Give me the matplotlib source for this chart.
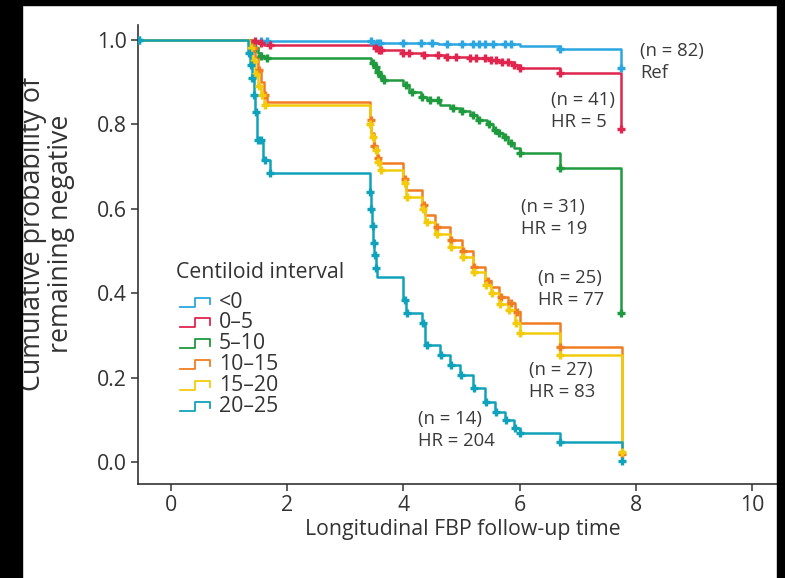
import numpy as np
import matplotlib
matplotlib.use("Agg")
import matplotlib.pyplot as plt
from matplotlib.lines import Line2D
from matplotlib.patches import Rectangle
from matplotlib.transforms import Affine2D

plt.rcParams['font.family'] = ['Open Sans', 'DejaVu Sans']

# ---------------- data ----------------
groups = ["<0", "0\u20135", "5\u201310", "10\u201315", "15\u201320", "20\u201325"]
colors = ["#2ba6e0", "#e0254f", "#1f9a3e", "#f07d22", "#f2cc0c", "#11a2bb"]

t_lt0 = [-0.55, 1.45, 3.5, 4.6, 6.0, 6.7, 7.75]
s_lt0 = [1.0, 0.997, 0.994, 0.99, 0.986, 0.979, 0.934]
c_lt0 = [-0.55, 1.55, 1.65, 3.45, 3.55, 3.6, 4.0, 4.3, 4.5, 4.75, 5.0, 5.2, 5.3,
         5.4, 5.55, 5.75, 5.85, 6.7, 7.75]

t_0_5 = [-0.55, 1.4, 1.5, 1.6, 3.5, 3.55, 4.0, 4.35, 4.75, 5.15, 5.5, 5.65, 5.9,
         6.0, 6.7, 7.75]
s_0_5 = [1.0, 0.997, 0.993, 0.988, 0.982, 0.976, 0.969, 0.964, 0.96, 0.957, 0.952,
         0.948, 0.94, 0.934, 0.922, 0.79]
c_0_5 = [1.45, 1.55, 1.7, 3.52, 3.58, 3.62, 4.0, 4.1, 4.35, 4.6, 4.75, 4.9, 5.15,
         5.25, 5.4, 5.5, 5.6, 5.7, 5.8, 5.9, 6.0, 6.7, 7.75]

t_5_10 = [-0.55, 1.4, 1.45, 1.5, 1.55, 1.6, 3.45, 3.5, 3.55, 3.6, 3.65, 4.0, 4.1,
          4.3, 4.4, 4.63, 4.8, 4.97, 5.15, 5.27, 5.44, 5.55, 5.62, 5.71, 5.8, 5.9,
          6.0, 6.7, 7.75]
s_5_10 = [1.0, 0.99, 0.98, 0.97, 0.963, 0.957, 0.945, 0.935, 0.925, 0.915, 0.905,
          0.893, 0.877, 0.865, 0.858, 0.846, 0.839, 0.832, 0.822, 0.81, 0.8, 0.787,
          0.78, 0.77, 0.756, 0.744, 0.732, 0.697, 0.353]
c_5_10 = [1.45, 1.55, 1.65, 3.47, 3.52, 3.57, 3.62, 3.67, 4.05, 4.15, 4.32, 4.45,
          4.6, 4.85, 5.0, 5.2, 5.3, 5.47, 5.58, 5.65, 5.75, 5.85, 6.0, 6.7, 7.75]

t_10_15 = [-0.55, 1.4, 1.45, 1.5, 1.55, 1.6, 1.65, 3.42, 3.45, 3.5, 3.55, 3.6, 4.0,
           4.05, 4.32, 4.37, 4.55, 4.8, 5.0, 5.2, 5.4, 5.5, 5.65, 5.8, 5.92, 6.0,
           6.7, 7.76]
s_10_15 = [1.0, 0.98, 0.96, 0.93, 0.9, 0.87, 0.853, 0.81, 0.78, 0.75, 0.72, 0.709,
           0.67, 0.645, 0.61, 0.585, 0.557, 0.526, 0.5, 0.462, 0.43, 0.415, 0.39,
           0.377, 0.355, 0.329, 0.273, 0.02]
c_10_15 = [1.42, 1.52, 1.62, 3.44, 3.5, 3.56, 4.02, 4.35, 4.57, 4.82, 5.02, 5.22,
           5.45, 5.68, 5.85, 5.95, 6.7, 7.76]

t_15_20 = [-0.55, 1.35, 1.4, 1.45, 1.5, 1.55, 1.6, 3.42, 3.45, 3.5, 3.55, 3.6, 4.0,
           4.05, 4.32, 4.37, 4.55, 4.8, 5.0, 5.2, 5.4, 5.5, 5.65, 5.8, 5.92, 6.0,
           6.7, 7.76]
s_15_20 = [1.0, 0.98, 0.95, 0.92, 0.89, 0.87, 0.846, 0.8, 0.77, 0.74, 0.71, 0.692,
           0.66, 0.628, 0.6, 0.568, 0.54, 0.51, 0.485, 0.45, 0.42, 0.4, 0.375, 0.36,
           0.33, 0.305, 0.253, 0.024]
c_15_20 = [1.37, 1.42, 1.47, 1.52, 1.57, 1.62, 3.43, 3.47, 3.52, 3.57, 3.62, 4.02,
           4.07, 4.34, 4.4, 4.57, 4.82, 5.02, 5.22, 5.42, 5.52, 5.67, 5.82, 5.94,
           6.0, 6.7, 7.76]

t_20_25 = [-0.55, 1.33, 1.36, 1.39, 1.42, 1.45, 1.48, 1.58, 1.70, 3.42, 3.44, 3.46,
           3.48, 3.50, 3.52, 3.54, 4.0, 4.05, 4.32, 4.37, 4.63, 4.8, 4.97, 5.2, 5.4,
           5.57, 5.75, 5.9, 6.0, 6.7, 7.76]
s_20_25 = [1.0, 0.97, 0.94, 0.91, 0.87, 0.83, 0.763, 0.716, 0.685, 0.64, 0.6, 0.56,
           0.52, 0.49, 0.46, 0.438, 0.384, 0.353, 0.329, 0.277, 0.253, 0.23, 0.206,
           0.175, 0.142, 0.118, 0.1, 0.08, 0.069, 0.047, 0.002]
c_20_25 = [-0.55, 1.34, 1.37, 1.4, 1.43, 1.46, 1.5, 1.55, 1.62, 1.7, 3.43, 3.45,
           3.47, 3.49, 3.51, 3.53, 4.02, 4.07, 4.34, 4.4, 4.65, 4.82, 4.99, 5.22,
           5.42, 5.59, 5.77, 5.92, 6.0, 6.7, 7.76]

times = [t_lt0, t_0_5, t_5_10, t_10_15, t_15_20, t_20_25]
survs = [s_lt0, s_0_5, s_5_10, s_10_15, s_15_20, s_20_25]
cens = [c_lt0, c_0_5, c_5_10, c_10_15, c_15_20, c_20_25]

ann_n = ["(n = 82)", "(n = 41)", "(n = 31)", "(n = 25)", "(n = 27)", "(n = 14)"]
ann_hr = ["Ref", "HR = 5", "HR = 19", "HR = 77", "HR = 83", "HR = 204"]
ann_x = [8.07, 6.54, 6.02, 6.32, 6.16, 4.25]
ann_y = [0.948, 0.831, 0.579, 0.411, 0.192, 0.075]

x_ticks = [0, 2, 4, 6, 8, 10]
y_ticks = [0.0, 0.2, 0.4, 0.6, 0.8, 1.0]

# ---------------- figure ----------------
W, H = 785, 578
fig = plt.figure(figsize=(W / 100, H / 100), dpi=100, facecolor="white")
ax = fig.add_axes([138 / W, 94 / H, (777 - 138) / W, 459 / H])

ink = "#333333"
for t, s, c, col in zip(times, survs, cens, colors):
    ax.step(t, s, where="post", color=col, lw=1.8, zorder=3)
    t_arr = np.asarray(t)
    s_arr = np.asarray(s)
    idx = np.searchsorted(t_arr, np.asarray(c), side="right") - 1
    ax.plot(c, s_arr[idx], linestyle="none", marker="+", ms=6, mew=2.4,
            color=col, zorder=4)

for x, y, n, hr in zip(ann_x, ann_y, ann_n, ann_hr):
    ax.text(x, y, n + "\n" + hr, fontsize=13.3, color="#3a3a3a", ha="left",
            va="center", linespacing=1.28, zorder=5)

ax.set_xlim(-0.568, 10.43)
ax.set_ylim(-0.052, 1.0355)
ax.set_xticks(x_ticks)
ax.set_xticklabels([str(v) for v in x_ticks])
ax.set_yticks(y_ticks)
ax.set_yticklabels([f"{v:.1f}" for v in y_ticks])
ax.tick_params(axis="both", direction="out", length=5, width=1.1, colors=ink,
               labelsize=15.3, labelcolor="#333333", pad=3)
for side in ["top", "right"]:
    ax.spines[side].set_visible(False)
for side in ["left", "bottom"]:
    ax.spines[side].set_color(ink)
    ax.spines[side].set_linewidth(1.2)

fig.text(462.5 / W, 1 - 530 / H, "Longitudinal FBP follow-up time",
         fontsize=15.3, color="#333333", ha="center", va="center")
fig.text(47 / W, 1 - 234 / H, "Cumulative probability of\nremaining negative",
         fontsize=19.3, color="#333333", ha="center", va="center",
         rotation=90, linespacing=1.0)

# ---------------- legend (step-shaped keys, in pixel coordinates) -------------
pix = Affine2D().scale(1.0 / W, -1.0 / H).translate(0, 1) + fig.transFigure
fig.text(176, 273, "Centiloid interval", transform=pix, fontsize=15.3,
         color="#333333", ha="left", va="center")
key_x = np.array([180, 195, 195, 210, 210])
key_y = np.array([4.5, 4.5, -4.5, -4.5, 2.0])
for i, (g, col) in enumerate(zip(groups, colors)):
    yc = 302 + 20.8 * i
    fig.add_artist(Line2D(key_x, key_y + yc, transform=pix, color=col, lw=1.3))
    fig.text(219, yc, g, transform=pix, fontsize=15.3, color="#333333",
             ha="left", va="center")

# black frame strips of the original scan
for (x0, y0, w, h) in [(0, 0, 22 / W, 1), (777 / W, 0, 1 - 777 / W, 1),
                       (0, 1 - 5 / H, 1, 5 / H)]:
    fig.patches.append(Rectangle((x0, y0), w, h, transform=fig.transFigure,
                                 color="black", zorder=10))

fig.savefig("out.png", dpi=100, facecolor="white")
